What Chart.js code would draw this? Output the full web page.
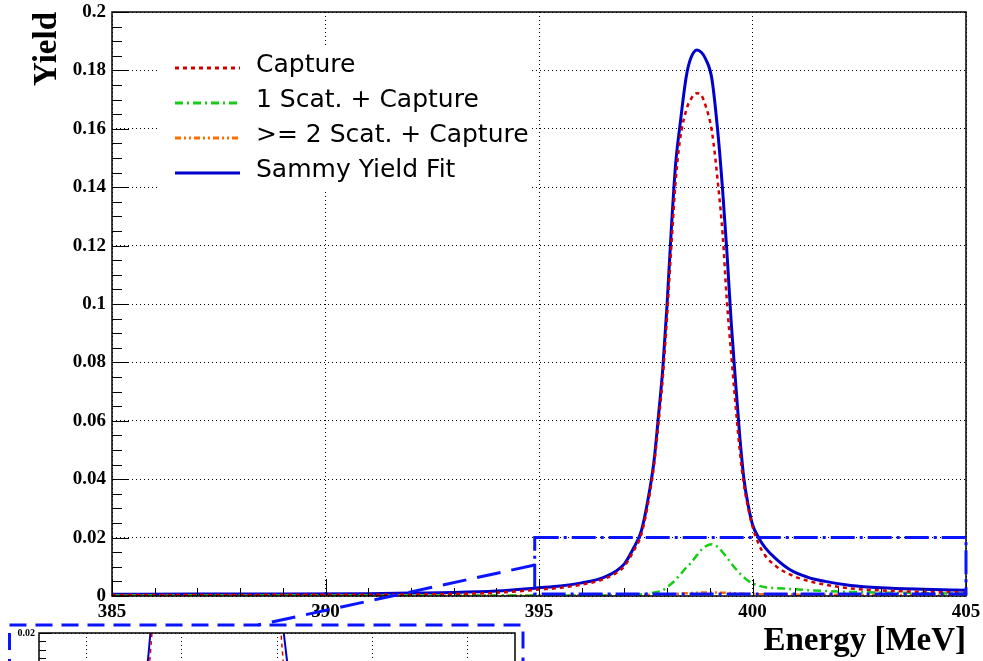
<!DOCTYPE html>
<html>
<head>
<meta charset="utf-8">
<title>Yield vs Energy</title>
<script src="https://cdn.jsdelivr.net/npm/chart.js@4.4.0/dist/chart.umd.min.js"></script>
<style>
  html, body { margin: 0; padding: 0; background: #fff; overflow: hidden; }
  #wrap { position: relative; width: 983px; height: 661px; overflow: hidden; }
  #mainBox { position: absolute; left: 0; top: 0; width: 983px; height: 661px; }
  #insetBox { position: absolute; left: 0; top: 620px; width: 540px; height: 400px; }
</style>
</head>
<body>
<div id="wrap">
  <div id="mainBox"><canvas id="mainChart"></canvas></div>
  <div id="insetBox"><canvas id="insetChart"></canvas></div>
</div>
<script>
'use strict';

// energy grid [MeV]
let energy = [385, 387, 389, 391, 392, 393, 394,
    395, 395.5, 396, 396.4, 396.8,
    397, 397.2, 397.4, 397.6, 397.7, 397.8, 397.9,
    398, 398.1, 398.2, 398.3, 398.45, 398.55, 398.7, 398.8, 398.9,
    399.05, 399.2, 399.3, 399.4, 399.5, 399.6, 399.7, 399.8, 399.9,
    400, 400.15, 400.3, 400.55, 400.9,
    401.3, 401.7, 402.3, 403, 404, 405];

let captureYield = [0.0003, 0.0003, 0.0004, 0.0004, 0.0005, 0.0007, 0.0011,
    0.0022, 0.0028, 0.0039, 0.0052, 0.0078,
    0.0102, 0.0150, 0.0213, 0.0355, 0.0455, 0.0595, 0.0750,
    0.0960, 0.1200, 0.1420, 0.1560, 0.1665, 0.1700, 0.1722, 0.1715, 0.1680,
    0.1590, 0.1400, 0.1240, 0.1010, 0.0830, 0.0660, 0.0500, 0.0380, 0.0300,
    0.0238, 0.0176, 0.0138, 0.0102, 0.0072,
    0.0052, 0.0039, 0.0026, 0.0019, 0.0014, 0.0012];

let oneScatYield = [0.0002, 0.0002, 0.0002, 0.0002, 0.0002, 0.0002, 0.0002,
    0.0002, 0.0002, 0.0002, 0.0002, 0.0003,
    0.0003, 0.0004, 0.0006, 0.0009, 0.0012, 0.0015, 0.0020,
    0.0030, 0.0042, 0.0056, 0.0072, 0.0098, 0.0112, 0.0140, 0.0158, 0.0170,
    0.0177, 0.0166, 0.0150, 0.0132, 0.0112, 0.0094, 0.0078, 0.0064, 0.0052,
    0.0043, 0.0035, 0.0030, 0.0027, 0.0024,
    0.0020, 0.0017, 0.0014, 0.0012, 0.0010, 0.0008];

let twoScatYield = [0.0001, 0.0001, 0.0001, 0.0001, 0.0001, 0.0001, 0.0001,
    0.0002, 0.0002, 0.0002, 0.0002, 0.0002,
    0.0003, 0.0003, 0.0003, 0.0004, 0.0004, 0.0005, 0.0005,
    0.0006, 0.0006, 0.0007, 0.0008, 0.0009, 0.0010, 0.0011, 0.0012, 0.0012,
    0.0012, 0.0012, 0.0011, 0.0011, 0.0010, 0.0009, 0.0008, 0.0008, 0.0007,
    0.0007, 0.0006, 0.0006, 0.0005, 0.0005,
    0.0004, 0.0004, 0.0004, 0.0003, 0.0003, 0.0003];

let sammyFit = [0.0006, 0.0007, 0.0007, 0.0008, 0.0010, 0.0012, 0.0017,
    0.0028, 0.0034, 0.0045, 0.0058, 0.0085,
    0.0110, 0.0160, 0.0225, 0.0370, 0.0470, 0.0620, 0.0780,
    0.1000, 0.1260, 0.1480, 0.1610, 0.1780, 0.1840, 0.1870, 0.1862, 0.1840,
    0.1770, 0.1570, 0.1390, 0.1180, 0.0940, 0.0740, 0.0550, 0.0400, 0.0310,
    0.0245, 0.0198, 0.0165, 0.0127, 0.0088,
    0.0064, 0.0050, 0.0036, 0.0028, 0.0023, 0.0020];

let seriesNames = ['Capture', '1 Scat. + Capture', '>= 2 Scat. + Capture', 'Sammy Yield Fit'];
let seriesColors = ['rgb(210,0,0)', 'rgb(20,205,20)', 'rgb(255,110,0)', 'rgb(0,0,205)'];
let seriesDash = [[4, 4], [8, 4, 2, 4], [6, 3, 2, 3, 2, 3], []];

let xTickValues = [385, 390, 395, 400, 405];
let xTickLabels = ['385', '390', '395', '400', '405'];
let yTickValues = [0, 0.02, 0.04, 0.06, 0.08, 0.1, 0.12, 0.14, 0.16, 0.18, 0.2];
let yTickLabels = ['0', '0.02', '0.04', '0.06', '0.08', '0.1', '0.12', '0.14', '0.16', '0.18', '0.2'];

let insetXTickValues = [396, 398, 400, 402, 404];
let insetXTickLabels = ['396', '398', '400', '402', '404'];
let insetYTickValues = [0, 0.002, 0.004, 0.006, 0.008, 0.01, 0.012, 0.014, 0.016, 0.018, 0.02];
let insetYTickLabels = ['0', '0.002', '0.004', '0.006', '0.008', '0.01', '0.012', '0.014', '0.016', '0.018', '0.02'];

// zoomed region marked on the main plot
let zoomBoxX = [394.9, 405];
let zoomBoxY = [0.0007, 0.02];
let zoomLinkY = 0.0106;

let boxBlue = 'rgb(10,20,255)';
let serifBold = 'Liberation Serif';

function toPoints(ys) {
    return energy.map((e, i) => ({ x: e, y: ys[i] }));
}

function makeDatasets(width) {
    let ys = [captureYield, oneScatYield, twoScatYield, sammyFit];
    return ys.map((arr, i) => ({
        label: seriesNames[i],
        data: toPoints(arr),
        borderColor: seriesColors[i],
        borderDash: seriesDash[i],
        borderWidth: i === 3 ? width : width - 0.5,
        pointRadius: 0,
        fill: false,
        cubicInterpolationMode: 'monotone'
    }));
}

// keep the plot frame where we put it, labels may stick out
function noEdgePadding(s) {
    s.paddingTop = 0;
    s.paddingBottom = 0;
    s.paddingLeft = 0;
    s.paddingRight = 0;
}

// ROOT style inner tick marks
function drawTicks(ctx, a, x, y, xr, yr) {
    ctx.strokeStyle = '#000';
    ctx.lineWidth = 1;
    ctx.beginPath();
    let nx = Math.round((xr.max - xr.min) / xr.step);
    for (let i = 0; i <= nx; i++) {
        let px = Math.round(x.getPixelForValue(xr.min + i * xr.step)) + 0.5;
        let len = i % xr.every === 0 ? xr.major : xr.minor;
        ctx.moveTo(px, a.bottom);
        ctx.lineTo(px, a.bottom - len);
    }
    let ny = Math.round((yr.max - yr.min) / yr.step);
    for (let i = 0; i <= ny; i++) {
        let py = Math.round(y.getPixelForValue(yr.min + i * yr.step)) + 0.5;
        let len = i % yr.every === 0 ? yr.major : yr.minor;
        ctx.moveTo(a.left, py);
        ctx.lineTo(a.left + len, py);
    }
    ctx.stroke();
    ctx.lineWidth = 1.5;
    ctx.strokeRect(a.left, a.top, a.right - a.left, a.bottom - a.top);
}

const mainPlugin = {
    id: 'mainRoot',
    afterDraw(chart) {
        const { ctx, chartArea: a, scales: { x, y } } = chart;
        ctx.save();
        drawTicks(ctx, a, x, y,
            { min: 385, max: 405, step: 1, every: 5, major: 17, minor: 8 },
            { min: 0, max: 0.2, step: 0.005, every: 4, major: 17, minor: 10 });

        // zoom box + link to inset
        let bx0 = x.getPixelForValue(zoomBoxX[0]);
        let bx1 = x.getPixelForValue(zoomBoxX[1]);
        let by0 = y.getPixelForValue(zoomBoxY[0]);
        let by1 = y.getPixelForValue(zoomBoxY[1]);
        ctx.strokeStyle = boxBlue;
        ctx.lineWidth = 3;
        ctx.setLineDash([24, 5, 3, 5]);
        ctx.strokeRect(bx0, by1, bx1 - bx0, by0 - by1);
        ctx.setLineDash([24, 11]);
        ctx.beginPath();
        ctx.moveTo(bx0, y.getPixelForValue(zoomLinkY));
        ctx.lineTo(258, 625);
        ctx.stroke();
        ctx.setLineDash([]);

        // legend
        ctx.fillStyle = '#fff';
        ctx.fillRect(158, 45, 374, 147);
        let rowY = [65, 100, 135, 170];
        ctx.font = '25px "DejaVu Sans"';
        ctx.textBaseline = 'middle';
        ctx.textAlign = 'left';
        for (let i = 0; i < seriesNames.length; i++) {
            ctx.strokeStyle = seriesColors[i];
            ctx.lineWidth = 3;
            ctx.setLineDash(seriesDash[i]);
            ctx.beginPath();
            ctx.moveTo(175, rowY[i] + 3);
            ctx.lineTo(240, rowY[i] + 3);
            ctx.stroke();
            ctx.setLineDash([]);
            ctx.fillStyle = '#000';
            ctx.fillText(seriesNames[i], 256, rowY[i]);
        }
        ctx.restore();
    }
};

const insetPlugin = {
    id: 'insetRoot',
    afterDraw(chart) {
        const { ctx, chartArea: a, scales: { x, y } } = chart;
        ctx.save();
        drawTicks(ctx, a, x, y,
            { min: 395, max: 405, step: 0.5, every: 4, major: 12, minor: 7 },
            { min: 0, max: 0.02, step: 0.0005, every: 4, major: 12, minor: 7 });
        ctx.strokeStyle = boxBlue;
        ctx.lineWidth = 3;
        ctx.setLineDash([17, 9]);
        ctx.strokeRect(9.5, 5, 513.5, 500);
        ctx.restore();
    }
};

let tickFont = { family: serifBold, weight: 'bold', size: 19 };
let titleFont = { family: serifBold, weight: 'bold', size: 33 };
let smallFont = { family: serifBold, weight: 'bold', size: 10 };

let mainChart = new Chart(document.getElementById('mainChart'), {
    type: 'line',
    data: { datasets: makeDatasets(3) },
    options: {
        responsive: true,
        maintainAspectRatio: false,
        animation: false,
        devicePixelRatio: 1,
        layout: { padding: { top: 12, right: 17, bottom: 0, left: 0 } },
        plugins: { legend: { display: false }, tooltip: { enabled: false } },
        scales: {
            x: {
                type: 'linear',
                min: 385,
                max: 405,
                afterBuildTicks: s => { s.ticks = xTickValues.map(v => ({ value: v })); },
                afterFit: s => { s.height = 65; noEdgePadding(s); },
                ticks: { callback: (v, i) => xTickLabels[i], padding: 5, color: '#000', font: tickFont, autoSkip: false, maxRotation: 0 },
                grid: { color: '#000', lineWidth: 1, drawTicks: false },
                border: { display: false, dash: [1, 3] },
                title: { display: true, text: 'Energy [MeV]', align: 'end', color: '#000', font: titleFont, padding: { top: 0, bottom: 0 } }
            },
            y: {
                type: 'linear',
                min: 0,
                max: 0.2,
                afterBuildTicks: s => { s.ticks = yTickValues.map(v => ({ value: v })); },
                afterFit: s => { s.width = 112; noEdgePadding(s); },
                ticks: { callback: (v, i) => yTickLabels[i], padding: 6, color: '#000', font: tickFont, autoSkip: false },
                grid: { color: '#000', lineWidth: 1, drawTicks: false },
                border: { display: false, dash: [1, 3] },
                title: { display: true, text: 'Yield', align: 'end', color: '#000', font: titleFont, padding: { top: 28, bottom: 0 } }
            }
        }
    },
    plugins: [mainPlugin]
});

let insetChart = new Chart(document.getElementById('insetChart'), {
    type: 'line',
    data: { datasets: makeDatasets(2) },
    options: {
        responsive: true,
        maintainAspectRatio: false,
        animation: false,
        devicePixelRatio: 1,
        layout: { padding: { top: 13, right: 25, bottom: 0, left: 0 } },
        plugins: { legend: { display: false }, tooltip: { enabled: false } },
        scales: {
            x: {
                type: 'linear',
                min: 395,
                max: 405,
                afterBuildTicks: s => { s.ticks = insetXTickValues.map(v => ({ value: v })); },
                afterFit: s => { s.height = 55; noEdgePadding(s); },
                ticks: { callback: (v, i) => insetXTickLabels[i], padding: 3, color: '#000', font: smallFont, autoSkip: false, maxRotation: 0 },
                grid: { color: '#000', lineWidth: 1, drawTicks: false },
                border: { display: false, dash: [1, 3] }
            },
            y: {
                type: 'linear',
                min: 0,
                max: 0.02,
                afterBuildTicks: s => { s.ticks = insetYTickValues.map(v => ({ value: v })); },
                afterFit: s => { s.width = 39; noEdgePadding(s); },
                ticks: { callback: (v, i) => insetYTickLabels[i], padding: 4, color: '#000', font: smallFont, autoSkip: false },
                grid: { color: '#000', lineWidth: 1, drawTicks: false },
                border: { display: false, dash: [1, 3] }
            }
        }
    },
    plugins: [insetPlugin]
});
</script>
</body>
</html>
